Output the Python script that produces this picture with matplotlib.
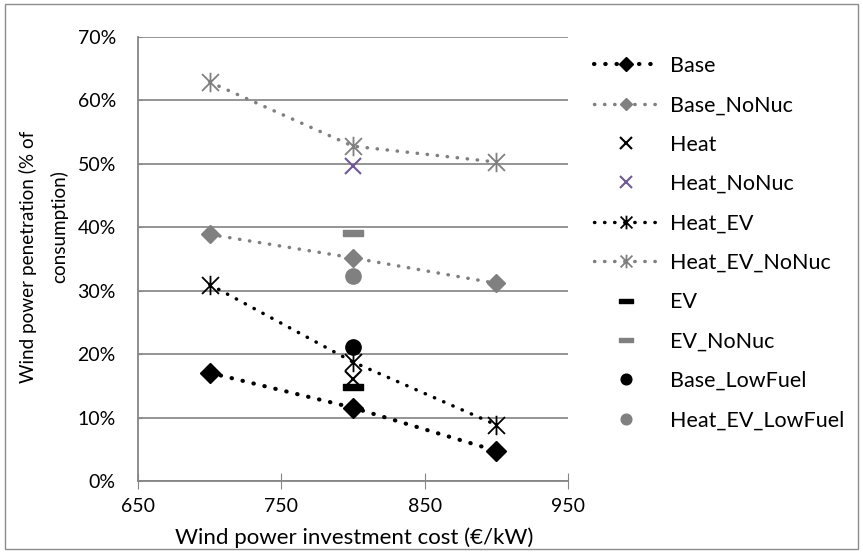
import matplotlib
matplotlib.use("Agg")
import matplotlib.pyplot as plt
from matplotlib.path import Path
from matplotlib.patches import Rectangle

plt.rcParams['font.family'] = ['Lato', 'DejaVu Sans']

x3 = [700, 800, 900]
x1 = [800]
base = [0.171, 0.116, 0.048]
base_nonuc = [0.389, 0.352, 0.312]
heat = [0.161]
heat_nonuc = [0.496]
heat_ev = [0.310, 0.188, 0.089]
heat_ev_nonuc = [0.629, 0.528, 0.503]
ev = [0.148]
ev_nonuc = [0.392]
base_lowfuel = [0.212]
heat_ev_lowfuel = [0.323]

xticks = [650, 750, 850, 950]
yticks = [0, 0.1, 0.2, 0.3, 0.4, 0.5, 0.6, 0.7]

star = Path([(-1, -1), (1, 1), (-1, 1), (1, -1), (0, -1.15), (0, 1.15)],
            [Path.MOVETO, Path.LINETO, Path.MOVETO, Path.LINETO, Path.MOVETO, Path.LINETO])
bar = Path([(-1.5, -0.45), (1.5, -0.45), (1.5, 0.45), (-1.5, 0.45), (-1.5, -0.45)],
           [Path.MOVETO, Path.LINETO, Path.LINETO, Path.LINETO, Path.CLOSEPOLY])

BLACK = '#000000'
GRAY = '#808080'
PURPLE = '#6f5a96'
FS = 15.5
W, H = 863, 552

fig = plt.figure(figsize=(8.63, 5.52), dpi=100)
fig.patches.append(Rectangle((0.006, 0.006), 0.988, 0.987, transform=fig.transFigure,
                             fill=False, edgecolor='#8c8c8c', linewidth=1.0))
ax = fig.add_axes([0.160, 0.128, 0.498, 0.805])

ax.plot(x3, base, linestyle=(0, (0.1, 2.6)), dash_capstyle='round', linewidth=3.0, color=BLACK,
        marker='D', markersize=10, label='Base')
ax.plot(x3, base_nonuc, linestyle=(0, (0.1, 2.8)), dash_capstyle='round', linewidth=2.5, color=GRAY,
        marker='D', markersize=9, label='Base_NoNuc')
ax.plot(x1, heat, linestyle='none', color=BLACK, marker='x', markersize=12, markeredgewidth=1.5,
        label='Heat')
ax.plot(x1, heat_nonuc, linestyle='none', color=PURPLE, marker='x', markersize=12,
        markeredgewidth=1.5, label='Heat_NoNuc')
ax.plot(x3, heat_ev, linestyle=(0, (0.1, 2.8)), dash_capstyle='round', linewidth=2.5, color=BLACK,
        marker=star, markersize=14, markeredgewidth=1.3, markerfacecolor='none', label='Heat_EV')
ax.plot(x3, heat_ev_nonuc, linestyle=(0, (0.1, 2.8)), dash_capstyle='round', linewidth=2.5, color=GRAY,
        marker=star, markersize=14, markeredgewidth=1.3, markerfacecolor='none', label='Heat_EV_NoNuc')
ax.plot(x1, ev, linestyle='none', color=BLACK, marker=bar, markersize=14, label='EV')
ax.plot(x1, ev_nonuc, linestyle='none', color=GRAY, marker=bar, markersize=14, label='EV_NoNuc')
ax.plot(x1, base_lowfuel, linestyle='none', color=BLACK, marker='o', markersize=11,
        label='Base_LowFuel')
ax.plot(x1, heat_ev_lowfuel, linestyle='none', color=GRAY, marker='o', markersize=11,
        label='Heat_EV_LowFuel')

ax.set_xlim(650, 950)
ax.set_ylim(0, 0.7)
ax.set_xticks(xticks)
ax.set_yticks(yticks)
ax.set_yticklabels([f'{int(round(v*100))}%' for v in yticks])
ax.tick_params(axis='both', labelsize=14, colors='#000000')
ax.tick_params(axis='x', direction='inout', length=12, color='#868686', pad=6)
ax.tick_params(axis='y', direction='in', length=3, color='#868686', pad=16)
ax.yaxis.grid(True, color='#8c8c8c', linewidth=1.3)
ax.set_axisbelow(True)
for s in ['top', 'right']:
    ax.spines[s].set_visible(False)
for s in ['left', 'bottom']:
    ax.spines[s].set_color('#868686')
    ax.spines[s].set_linewidth(1.3)

# axis titles
fig.text(354 / W, 1 - 544 / H, 'Wind power investment cost (€/kW)', fontsize=16.0,
         ha='center', va='baseline')
fig.text(28 / W, 1 - 257 / H, 'Wind power penetration (% of', fontsize=13.6,
         rotation=90, ha='center', va='center')
fig.text(59 / W, 1 - 227 / H, 'consumption)', fontsize=13.6,
         rotation=90, ha='center', va='center')

leg = ax.legend(loc='upper left', bbox_to_anchor=(1.04, 0.977), frameon=False, fontsize=FS,
                labelspacing=0.90, handlelength=3.0, handletextpad=0.55, markerscale=0.7,
                borderaxespad=0)

fig.savefig('out.png', dpi=100)
